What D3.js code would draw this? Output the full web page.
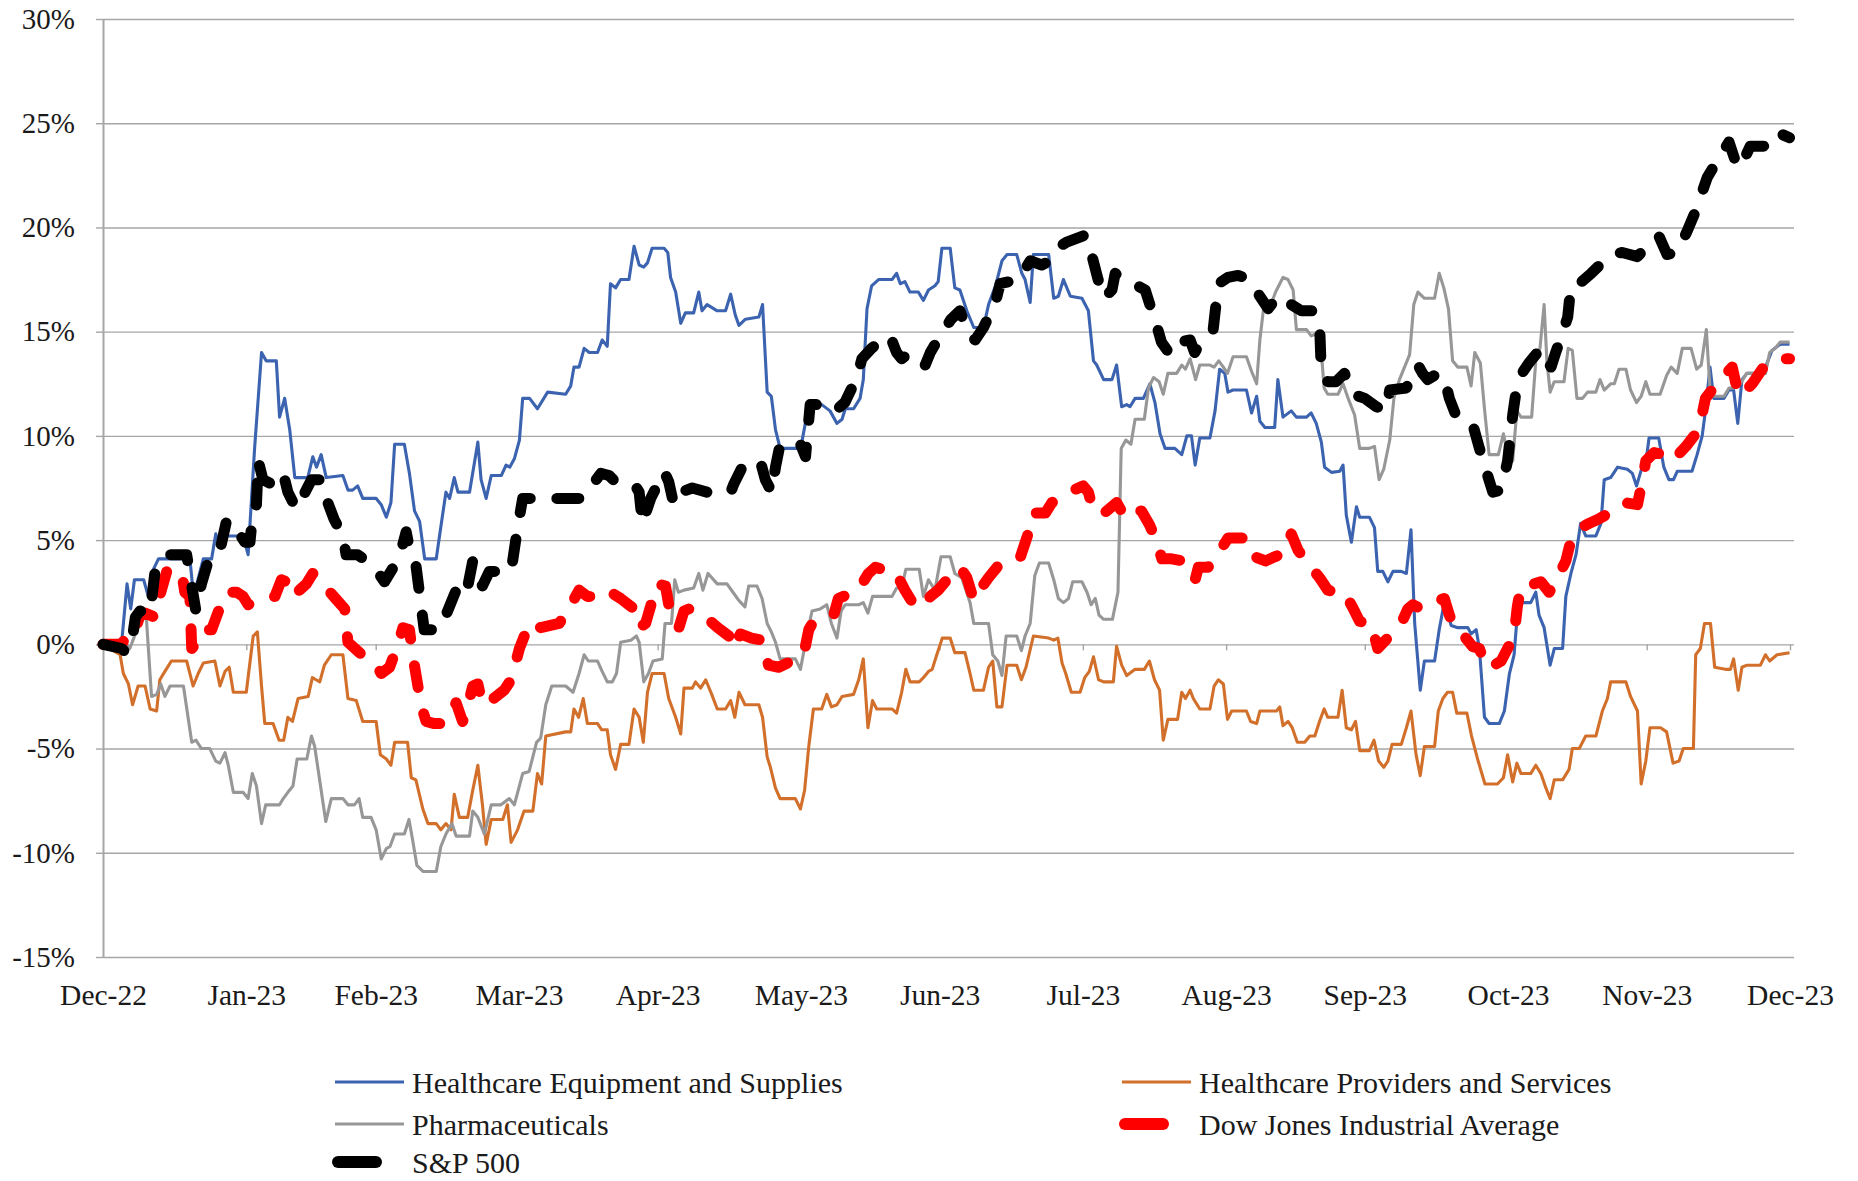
<!DOCTYPE html>
<html>
<head>
<meta charset="utf-8">
<script src="https://cdn.jsdelivr.net/npm/d3@7"></script>
<style>
  body { margin: 0; background: #fff; }
  text { font-family: "Liberation Serif", "DejaVu Serif", serif; }
</style>
</head>
<body>
<div id="chart"></div>
<script>
// month-end ticks, labelled by month
const monthLabels = ["Dec-22", "Jan-23", "Feb-23", "Mar-23", "Apr-23", "May-23", "Jun-23",
  "Jul-23", "Aug-23", "Sep-23", "Oct-23", "Nov-23", "Dec-23"];
const monthEnds = ["2022-12-31", "2023-01-31", "2023-02-28", "2023-03-31", "2023-04-30", "2023-05-31",
  "2023-06-30", "2023-07-31", "2023-08-31", "2023-09-30", "2023-10-31", "2023-11-30", "2023-12-31"];
const yTicks = [-15, -10, -5, 0, 5, 10, 15, 20, 25, 30];

const seriesNames = ["Healthcare Equipment and Supplies", "Healthcare Providers and Services",
  "Pharmaceuticals", "Dow Jones Industrial Average", "S&P 500"];

// [days since 2022-12-31, % return]
const equipment = [[0,0],[4,0],[5.2,2.9],[6,1.7],[6.8,3.1],[8.8,3.1],[9.8,2.3],[10.7,3.5],[12,4.1],[18.8,4.1],[19.6,2.3],[21.7,4.1],[23.5,4.1],[24.4,5.3],[24.9,4.9],[26,5.2],[30.3,5.2],[31.4,4.3],[32.8,9.4],[34.3,14],[35.3,13.6],[37.5,13.6],[38.2,10.9],[39.3,11.8],[40.4,10.3],[41.5,8],[44.3,8],[45.4,9],[46.2,8.5],[47.2,9.1],[48.3,8],[51.9,8.1],[53,7.4],[54,7.4],[55.1,7.6],[56.2,7],[59.1,7],[60.2,6.7],[61.3,6.1],[62.3,6.8],[63.1,9.6],[65.2,9.6],[66.3,8.2],[67.4,6.4],[68.5,5.9],[69.6,4.1],[72.1,4.1],[73.2,5.8],[74.2,7.3],[75,7],[76,8],[76.8,7.3],[79.3,7.3],[81.1,9.7],[81.8,7.9],[82.9,7],[84,8.1],[86.2,8.1],[87.2,8.6],[88,8.5],[89,8.9],[90.1,9.8],[90.8,11.8],[92.3,11.8],[94,11.3],[96.2,12.1],[100.1,12],[101.2,12.4],[101.9,13.3],[103,13.3],[104.1,14.2],[105.2,14],[107,14],[108,14.6],[109.1,14.3],[109.8,17.3],[110.9,17.1],[112,17.5],[113.8,17.5],[114.9,19.1],[116,18.2],[117,18.1],[117.8,18.3],[118.8,19],[121.4,19],[122.2,18.8],[122.8,17.6],[123.9,16.9],[125,15.4],[126,15.9],[127.8,15.9],[128.9,16.9],[129.6,16],[130.7,16.3],[132.9,16],[134.7,16],[135.8,16.8],[136.8,15.8],[137.6,15.3],[139,15.6],[141.9,15.7],[142.7,16.3],[143.7,12.1],[144.6,11.9],[145.5,10.3],[146.5,9.4],[150.1,9.4],[151.2,9.7],[152.7,11.5],[155.5,11.5],[157.3,11.2],[158.8,10.6],[159.9,10.8],[160.6,11.3],[162.4,11.3],[163.8,11.8],[164.5,12.7],[165.3,16.1],[166.3,17.2],[167.8,17.5],[170.7,17.5],[171.7,17.8],[172.5,17.3],[173.5,17.4],[174.6,16.9],[176.4,16.9],[177.5,16.5],[178.6,17],[180,17.2],[180.7,17.4],[181.5,19],[183.3,19],[184.3,17.1],[185.4,17],[186.9,16],[188.4,15.2],[190.5,15.2],[191.6,16.3],[193.1,17.2],[194.5,18.4],[195.6,18.7],[197.7,18.7],[198.8,17.8],[199.5,17.5],[200.6,16.4],[201.3,18.7],[204.6,18.7],[205.7,16.6],[206.7,16.7],[207.8,17.5],[209.3,16.7],[211.8,16.6],[213.2,16],[214.3,13.6],[215,13.4],[216.5,12.7],[218.3,12.7],[219.3,13.4],[220.4,11.4],[221.5,11.5],[222.2,11.4],[223.3,11.8],[225.1,11.8],[226.5,12.5],[227.6,11.6],[228.7,10.1],[229.8,9.4],[231.9,9.4],[233.4,9.1],[234.5,10],[235.5,10],[236.3,8.6],[237.3,9.9],[239.5,9.9],[240.6,11.2],[241.6,13.2],[242.7,13],[243.4,12.1],[244.5,12.2],[247.4,12.2],[248.5,11.1],[249.6,11.9],[250.3,10.7],[251.4,10.4],[253.5,10.4],[254.2,12.7],[255.3,10.9],[257.1,11.2],[258.2,10.9],[260.4,10.9],[261.4,11.1],[262.5,10.6],[263.6,9.7],[264.3,8.5],[265.8,8.25],[267.6,8.3],[268.3,8.6],[269,6.2],[270.1,4.9],[271.2,6.6],[271.9,6.1],[274,6.1],[275.1,5.6],[275.8,3.5],[276.9,3.5],[278,3],[279.1,3.5],[280.9,3.5],[282,3.4],[283,5.5],[283.8,1],[285,-2.2],[285.9,-0.8],[288.1,-0.8],[289.1,0.7],[290.2,2],[291.7,0.9],[293.1,0.8],[295.3,0.8],[296,0.5],[297.1,0.7],[297.8,-0.2],[298.9,-3.5],[299.9,-3.8],[302.1,-3.8],[303.2,-3.2],[304.3,-1.4],[305.3,-0.5],[306.1,1.7],[307.1,2],[308.9,2],[310,2.5],[310.7,1.4],[311.8,0.8],[313.1,-1],[314,-0.2],[315.8,-0.2],[316.5,2.3],[317.6,3.4],[318.7,4.3],[319.7,5.8],[320.8,5.2],[323,5.2],[324.1,5.8],[324.8,7.9],[326.2,8],[327.7,8.5],[329.8,8.4],[330.9,8.2],[331.8,7.6],[333,8.5],[334.1,9.2],[334.5,9.9],[336.6,9.9],[337.7,8.5],[338.8,7.9],[339.8,7.9],[340.6,8.3],[343.8,8.3],[344.9,9.1],[346,10],[346.7,11.2],[347.7,13.3],[348.5,11.8],[350.7,11.8],[351.8,12.2],[352.8,12.2],[353.7,10.6],[354.6,12.7],[355.7,13],[358.6,13],[359.7,13.3],[361.1,14.1],[362.9,14.4],[364.9,14.4]];

const providers = [[0,0],[3.7,-0.5],[4.4,-1.4],[5.5,-1.9],[6.4,-2.9],[7.6,-2],[9.1,-2],[10.2,-3.1],[11.6,-3.2],[12.3,-1.7],[13.4,-1.3],[14.8,-0.8],[18.1,-0.8],[19.5,-2],[20.6,-1.4],[21.7,-0.9],[24.2,-0.8],[25.3,-2],[26.4,-1.3],[27.3,-1.1],[28.2,-2.3],[31,-2.3],[32.5,0.4],[33.4,0.6],[34.3,-2],[35,-3.8],[36.8,-3.8],[38.1,-4.6],[39.1,-4.6],[40,-3.5],[41,-3.7],[42.2,-2.6],[44.4,-2.5],[45.3,-1.6],[46.1,-1.7],[46.9,-1.8],[47.9,-1],[49.4,-0.5],[51.9,-0.5],[53,-2.6],[54.8,-2.7],[56.2,-3.7],[59.1,-3.7],[60,-5.3],[61.3,-5.5],[62.3,-5.8],[63.1,-4.7],[65.9,-4.7],[66.7,-6.4],[67.7,-6.5],[69.2,-7.9],[70.3,-8.6],[72.1,-8.6],[73.1,-8.9],[74.2,-8.6],[75.3,-8.9],[76,-7.2],[77.1,-8.3],[78.9,-8.3],[80,-7],[81.1,-5.8],[82.1,-7.7],[82.9,-9.6],[84,-8.4],[86.5,-8.4],[87.5,-7.7],[88.3,-9.5],[89.7,-8.9],[91.1,-8],[93,-8],[94,-6.2],[94.9,-6.7],[95.8,-4.4],[100.1,-4.2],[101.2,-4.2],[101.9,-3.1],[102.9,-3.5],[103.9,-2.6],[104.8,-3.8],[107,-3.8],[107.9,-4.1],[109.1,-4.1],[109.8,-5.3],[110.9,-6],[112,-4.8],[113.8,-4.8],[114.9,-3.1],[116,-3.5],[116.9,-4.7],[117.8,-2.3],[118.8,-1.4],[121.4,-1.4],[122.4,-2.6],[123.9,-3.5],[125,-4.3],[125.7,-2.1],[127.5,-2.1],[128.2,-1.8],[129.3,-2.1],[130.4,-1.7],[131.7,-2.4],[132.9,-3.1],[134.7,-3.1],[135.8,-2.7],[136.7,-3.5],[137.6,-2.3],[138.9,-2.9],[141.9,-2.9],[142.7,-3.5],[143.7,-5.4],[144.4,-5.9],[145.5,-6.9],[146.5,-7.4],[149.8,-7.4],[150.9,-7.9],[151.8,-7],[152.7,-4.9],[153.7,-3.1],[155.5,-3.1],[156.6,-2.4],[157.6,-3],[158.8,-2.9],[159.9,-2.5],[162.4,-2.4],[163.5,-1.7],[164.5,-0.7],[165.5,-4],[166.5,-2.7],[167.4,-3.1],[170.7,-3.1],[171.7,-3.3],[172.8,-2.3],[173.7,-1.2],[174.6,-1.8],[176.6,-1.8],[177.5,-1.6],[178.6,-1.3],[179.4,-1.2],[180.4,-0.5],[181.6,0.3],[183.3,0.3],[184.3,-0.4],[186.5,-0.4],[187.6,-1.4],[188.4,-2.2],[190.5,-2.2],[191.6,-1.1],[192.5,-0.8],[193.4,-3],[194.5,-3],[195.6,-1],[197.7,-1],[198.7,-1.7],[199.7,-1.1],[201.3,0.4],[204.6,0.3],[205.7,0.2],[206.6,0.3],[207.5,-0.9],[208.3,-1.4],[209.5,-2.3],[211.4,-2.3],[212.4,-1.6],[213.4,-1.3],[214.3,-0.6],[215.4,-1.7],[216.5,-1.8],[218.6,-1.8],[219.3,-0.1],[220.4,-1],[221.5,-1.5],[223.3,-1.2],[225.3,-1.2],[226.4,-0.8],[227.5,-1.7],[228.6,-2.2],[229.4,-4.6],[230.4,-3.6],[232.5,-3.6],[233.4,-2.3],[234.2,-2.6],[235.2,-2.2],[235.9,-2.6],[237.3,-3.1],[239.5,-3.1],[240.4,-2],[241.3,-1.7],[242.4,-1.9],[243.3,-3.6],[244.2,-3.2],[247.4,-3.2],[248.3,-3.7],[249.6,-3.8],[250.3,-3.2],[253.9,-3.2],[254.6,-3],[255.3,-3.9],[256.4,-3.7],[257.3,-4],[258.4,-4.7],[260,-4.7],[261.1,-4.4],[262.2,-4.4],[263.2,-3.7],[264.2,-3.1],[265,-3.5],[267.2,-3.5],[268.1,-2.2],[269,-4],[270.1,-4.1],[271,-3.7],[271.9,-5.1],[274,-5.1],[275,-4.6],[276,-5.6],[277.1,-5.9],[278,-5.6],[278.9,-4.8],[280.9,-4.8],[282,-4],[283,-3.2],[284.1,-5.3],[285,-6.3],[285.9,-4.9],[288.1,-4.9],[288.9,-3.2],[289.9,-2.6],[290.9,-2.3],[292,-2.3],[292.9,-3.3],[295.1,-3.3],[296.1,-4.4],[297.4,-5.5],[299,-6.7],[301.7,-6.7],[303,-6.4],[303.9,-5.3],[305,-6.6],[305.9,-5.7],[306.8,-6.2],[308.9,-6.2],[310,-5.8],[311.1,-6.2],[312.2,-6.9],[313.1,-7.4],[314,-6.5],[315.8,-6.5],[317.2,-6],[317.9,-5],[319.4,-5],[320.8,-4.4],[323,-4.4],[324.4,-3.2],[325.5,-2.6],[326.2,-1.8],[329.5,-1.8],[330.5,-2.5],[332,-3.2],[332.8,-6.7],[333.8,-5.6],[334.7,-4],[337,-4],[338.3,-4.2],[339.7,-5.7],[341,-5.6],[341.9,-5],[344.1,-5],[344.6,-0.5],[345.6,-0.2],[346.5,1],[347.8,1],[348.7,-1.1],[351,-1.2],[352.1,-1.2],[352.8,-0.7],[353.8,-2.2],[354.6,-1.1],[355.7,-1],[358.6,-1],[359.7,-0.5],[360.6,-0.8],[362.2,-0.5],[364.9,-0.4]];

const pharma = [[0,0],[5.1,0],[5.8,-0.2],[7,0.5],[8.5,1.3],[9.4,1.2],[10.5,-2.5],[11.6,-2.4],[12.5,-1.9],[13.4,-2.5],[14.5,-2],[17.4,-2],[19.2,-4.7],[20.1,-4.6],[21.3,-5],[23.1,-5],[24.4,-5.6],[25.3,-5.7],[26.4,-5.2],[27.1,-5.8],[28.2,-7.1],[30.3,-7.1],[31.4,-7.4],[32.3,-6.2],[33.2,-6.8],[34.3,-8.6],[35.2,-7.7],[38.2,-7.7],[39,-7.4],[40,-7.1],[41.1,-6.8],[42,-5.5],[44.1,-5.5],[45.1,-4.4],[45.8,-4.9],[47.2,-7],[48.2,-8.5],[49.4,-7.4],[51.9,-7.4],[53,-7.7],[54.4,-7.7],[55.4,-7.4],[56.2,-8.3],[58,-8.3],[59.1,-8.9],[60.2,-10.3],[61.3,-9.8],[62.1,-9.7],[63.1,-9.1],[65.2,-9.1],[66.2,-8.4],[67,-9.4],[67.9,-10.6],[69.3,-10.9],[72.1,-10.9],[73.1,-9.7],[74.2,-9.1],[75.5,-8.6],[76.4,-9.2],[79.3,-9.2],[80,-8],[81.1,-8.3],[82.5,-9.1],[84,-7.7],[86.1,-7.7],[87.9,-7.4],[89,-7.7],[90.8,-6.2],[92.2,-6.1],[93.8,-4.7],[94.7,-4.5],[95.8,-2.9],[97.1,-2],[100.1,-2],[101.7,-2.3],[103,-1.4],[104.1,-0.5],[105,-0.8],[107,-0.8],[108,-1.3],[109.1,-1.8],[110.2,-1.8],[111.1,-1.4],[112,0.1],[114.2,0.2],[115.4,0.4],[116,0.1],[117,-1.8],[118,-1.4],[119,-0.8],[121,-0.7],[121.6,1],[123,1],[123.7,3.1],[124.5,2.5],[125.7,2.6],[127.8,2.7],[128.9,3.4],[129.8,2.6],[130.9,3.4],[132.9,2.9],[135,2.9],[136.3,2.5],[137.6,2.1],[138.9,1.8],[139.7,2.8],[141.5,2.8],[142.6,2.2],[143.7,1],[144.6,0.6],[145.5,0.1],[146.5,-0.7],[149.8,-0.7],[150.9,-1.2],[152,0.1],[153.4,1.6],[155.2,1.7],[156.6,1.9],[157.6,1],[158.8,0.3],[159.7,1.6],[160.6,1.9],[163.5,1.9],[164.5,2],[165.5,1.5],[166.5,2.3],[170.7,2.3],[171.7,2.7],[172.8,2.7],[173.7,3.6],[176.6,3.6],[177.5,2.3],[178.6,3.1],[180,2.6],[181.3,4.2],[183.3,4.2],[184.3,3.4],[185.8,3.2],[187.6,2],[188.4,1],[191.6,1],[192.5,-0.5],[193.6,-0.8],[194.5,-1.5],[195.4,0.4],[197.7,0.4],[198.7,-0.3],[199.5,0.4],[200.6,1],[201.6,3.3],[202.6,3.9],[204.6,3.9],[205.7,3.1],[206.7,2.2],[207.8,2],[208.9,2.2],[209.8,3],[211.8,3],[212.9,2.5],[213.8,1.9],[214.7,2.2],[215.5,1.4],[216.5,1.2],[218.4,1.2],[219.6,2.5],[220.3,9.4],[221.3,9.8],[222.4,9.6],[223.3,10.8],[225.3,10.8],[226.2,12.3],[227.3,12.8],[228.5,12.6],[229.4,12],[230.4,13],[232.3,13],[233.4,13.4],[234.2,13.2],[235.2,13.7],[236.4,12.7],[237.3,13.4],[239.5,13.4],[240.4,13.3],[241.4,13.6],[242.4,13.3],[243.3,13],[244.5,13.8],[247.4,13.8],[248.5,13.1],[249.6,12.5],[250.3,14.6],[251.2,16.3],[252.7,16.3],[253.7,16.9],[255.3,17.6],[256.4,17.5],[257.5,17],[258.2,15.1],[260.4,15.1],[261.4,14.8],[262.5,14.9],[263.5,14.3],[264.2,12.3],[265,12],[267.2,12],[268.3,12.5],[269.4,11.8],[270.8,11],[271.9,9.4],[274,9.4],[275.1,9.5],[276.1,7.9],[277.1,8.4],[278.4,9.8],[279.3,11.8],[280.5,12.7],[281.6,13.3],[282.7,13.9],[283.6,16.3],[284.5,16.9],[285.9,16.6],[288.1,16.6],[289.1,17.8],[290.1,17.1],[291.1,16.1],[292,13.6],[293.1,13.3],[295.1,13.3],[296,12.4],[296.8,14],[298,13.5],[298.9,11.3],[299.9,9.1],[301.9,9.1],[303,10.1],[303.9,9.1],[305,8.8],[305.9,11.2],[306.8,10.9],[309.1,10.9],[310,13.6],[310.9,14.2],[311.8,16.3],[312.4,13.6],[313.1,12.1],[314,12.6],[316.1,12.6],[317,14.2],[317.9,14.1],[318.9,11.8],[320.1,11.8],[321.2,12.1],[323,12.1],[323.9,12.7],[324.8,12.2],[326.2,12.5],[327,12.5],[328,13.2],[329.5,13.2],[330.5,12.2],[331.8,11.6],[332.8,11.9],[333.8,12.6],[334.7,12],[336.9,12],[338.3,12.9],[339.3,13.3],[340.6,13],[341.7,14.2],[343.6,14.2],[344.8,13.2],[345.8,13.4],[346.9,15.1],[347.7,12.2],[348.5,11.9],[350.7,11.9],[351.8,12.3],[352.8,12.3],[354.3,12.5],[355.6,13],[359.7,13],[360.6,14],[361.8,14.2],[362.9,14.5],[364.9,14.5]];

const djia = [[0,0],[4,0],[5.1,0.4],[6.6,0.4],[8,1.4],[9.1,1.5],[11.2,1.3],[12.5,2.5],[13.8,3.5],[15.5,3.6],[17,3.5],[17.7,2.5],[18.8,2.3],[19.2,-0.2],[20.3,0.1],[21.3,0.7],[23.5,0.7],[25,1.6],[26.7,2.5],[28.9,2.5],[30.3,2.3],[31.4,1.9],[32.5,2],[34.8,2.2],[37.2,2.3],[38.6,3.1],[39.7,3],[40.8,2.3],[42.5,2.6],[44,2.9],[45.4,3.4],[46.1,3.1],[47.6,2.8],[48.3,2.7],[50.3,2.2],[52.3,1.7],[53,0.1],[55.5,-0.4],[57.7,-0.8],[59.1,-1],[60.2,-1.4],[62,-1.1],[63.5,-0.2],[64.9,0.8],[66.3,0.7],[67,-0.5],[68.8,-2.9],[69.9,-3.7],[71.7,-3.8],[73.5,-3.8],[74.9,-3.5],[76.4,-2.8],[77.8,-3.7],[79,-2.9],[80,-2],[81.1,-1.9],[82.1,-2.9],[84.5,-2.6],[86.8,-2.2],[88.3,-1.7],[90.1,-0.2],[91.5,0.6],[92.9,1.1],[94.7,0.8],[98.7,1],[101,1.8],[103,2.6],[104.8,2.3],[106.6,2.3],[109.1,2.6],[112,2.2],[114.9,1.7],[116,0.8],[117.4,1],[118.7,2],[119.9,2.9],[121.7,2.8],[122.8,1.4],[124.6,0.8],[125.7,1.6],[126.8,1.7],[128.2,1.6],[130.4,1.3],[133,0.8],[135.4,0.4],[136.5,-0.2],[137.9,0.5],[140.3,0.3],[142.6,0.2],[144,-1],[146.2,-1.1],[149,-0.8],[151.6,-0.5],[152.7,0.7],[153.7,1.1],[156,1.2],[158.1,1.4],[159.1,2.2],[161.3,2.4],[163.5,2.6],[164.5,3],[165.6,3.4],[167.1,3.7],[169.9,3.5],[171.4,3.5],[173.5,2.6],[175.7,1.8],[177.9,1.9],[179,2.3],[180.7,2.6],[183,3.2],[185.4,3.7],[186.9,3.2],[188.4,2.1],[190,2.7],[191.6,3.2],[193.8,3.8],[195.6,4.1],[198.5,4.2],[200,5.2],[201,6.3],[203.9,6.3],[205.3,6.8],[207.8,7.1],[210,7.4],[212.1,7.6],[213.2,7.3],[213.9,6.7],[216.1,6.2],[217.7,6.5],[219.3,6.8],[221.1,6.1],[222.6,6.4],[224.7,6.4],[226.5,5.7],[228,4.9],[229.1,4.1],[231.2,4.1],[233.7,4],[235,3.5],[236.3,3.1],[237,3.7],[239.1,3.7],[240.6,4.1],[242,4.6],[243.4,5.1],[247.4,5.1],[249.2,4.2],[251.5,4],[253.5,4.2],[255.7,4.4],[257.1,5.3],[258.6,4.5],[261,3.8],[263.2,3.2],[265,2.6],[266.8,2.5],[268.6,2.5],[270.3,1.8],[271.9,1.1],[274.4,1],[275.8,-0.2],[277.5,0.2],[279.2,0.6],[280.9,1],[282.3,1.7],[283.4,1.9],[285.2,1.7],[287.8,2],[290.2,2.2],[291.3,1.4],[292.4,0.8],[294.5,0.4],[296.3,-0.1],[297.8,-0.2],[299.2,-1.1],[301,-1],[302.5,-0.8],[303.9,-0.2],[305.3,0.4],[306,1.8],[306.8,2.8],[308.2,2.8],[311.1,3],[312.9,2.5],[314.7,3.2],[316.5,4],[317.6,5],[319,5.5],[321.5,5.8],[323.5,6],[325.1,6.2],[326.9,6.4],[329.1,6.8],[332,6.7],[333,7.8],[333.8,8.8],[335.6,9.2],[337.7,9.1],[339.5,8.8],[342.5,9.5],[345.3,10.3],[346.7,11.8],[349.5,12.6],[352.5,13.3],[353.6,12.2],[354.3,11.9],[356.8,12.5],[359.3,13.3],[361.1,13.6],[362.9,13.7],[364.9,13.7]];

const sp500 = [[0,0],[4,-0.2],[5.1,-0.4],[6.2,0.05],[7,1.3],[8,1.6],[10.2,1.5],[11.2,3.4],[12.5,4],[13.8,4.3],[18.1,4.3],[19.2,2.8],[20.1,1.6],[21.3,2.9],[22.5,3.8],[23.8,4.6],[25.6,4.8],[26.7,5.9],[28.2,5.9],[29.5,5.3],[30.7,4.9],[31.8,4.9],[32.5,6.5],[33.2,6.7],[33.6,8.8],[34.6,7.9],[36.4,7.7],[37.5,7.7],[39,8.2],[40,7.3],[41.8,6.5],[43.5,7.2],[45.1,7.9],[47.2,7.9],[48.3,7],[50,6],[51.9,5.2],[52.6,4.3],[55.1,4.3],[57,4],[58.7,3.7],[60.9,3],[63.1,3.8],[64.5,4.5],[65.6,5.4],[66.3,4.6],[67.7,3.8],[68.8,1.9],[69.5,0.7],[72.8,0.7],[74.2,1.4],[76.4,2.6],[77.5,2.5],[78.5,2.3],[80,4],[81,3.4],[82.1,2.8],[83.6,3.5],[88.3,3.5],[89.7,5.6],[90.8,7],[93.3,7],[95.5,7.1],[97.6,7],[103.7,7],[105.7,7.6],[107.7,8.2],[109.5,8.1],[111.3,7.7],[115.2,7.6],[116,7.3],[116.7,5.8],[118.5,7],[121.4,8.3],[122.4,7.8],[123.5,6.7],[125,7.3],[127.5,7.5],[130.7,7.3],[135.8,7.3],[136.5,7.7],[138.3,8.5],[140.5,8.7],[142.2,8.8],[143.3,7.9],[144.7,7.3],[145.5,8.5],[146.5,9.6],[150.9,9.6],[152,9],[153,11.5],[157,11.5],[158.4,11.2],[160.5,11.6],[163.1,12.8],[164.2,13.7],[166.3,14.2],[168.5,14.6],[170.3,14.8],[171.7,14],[172.8,13.7],[174.6,14],[176.5,13.7],[177.9,13.4],[179,14],[181.1,14.8],[183.5,15.6],[185.4,16],[187.2,14.9],[188.7,14.6],[190.5,15.2],[193.1,16.4],[194.1,17.3],[198.1,17.5],[199.5,18],[200.6,18.4],[203.1,18.2],[204.9,18.4],[206.4,19],[208.5,19.3],[212.1,19.6],[213.2,19.5],[213.9,18.7],[215.3,17.5],[216.5,16.6],[218.3,17],[219,17.8],[220.4,17.5],[223,17.3],[225.5,17],[226.5,16.3],[227.6,15.6],[229,14.5],[230.9,13.9],[232.7,14.5],[235.2,14.6],[236.2,14],[237.7,14.6],[240.2,15.1],[241.3,17.3],[243.4,17.6],[245.6,17.7],[248.1,17.5],[250,16.8],[252.1,16.1],[254.2,16.7],[255.3,16.4],[257.1,16.3],[259.3,16],[261.8,16],[263.2,15.5],[263.6,13],[265,12.6],[266.8,12.6],[268.6,13],[269.5,12.5],[270.4,12],[273,11.8],[275.5,11.4],[277.6,11.2],[278.4,12.2],[282,12.3],[283.3,13],[284.5,13.4],[285.5,13],[286.6,12.7],[288.8,13],[290.2,12.8],[291.3,11.8],[292.7,11],[294.5,10.8],[296.3,10.6],[297.8,9.4],[299.3,8.3],[300.7,7.3],[302.5,7.4],[303.9,8.8],[305,11],[306.1,12.7],[308.5,13.5],[311.1,14.2],[313.3,13.3],[314.3,14],[315.6,14.8],[316.9,15.7],[317.6,17.2],[319.4,17.3],[322,17.8],[324.8,18.4],[326.2,18.7],[328.7,18.8],[332,18.6],[334.5,19.2],[336.6,19.6],[338.4,18.7],[340.6,18.8],[342.7,19.8],[344.6,20.8],[347.1,22.4],[349.5,23.3],[351.8,24.1],[353.6,22.9],[354.3,22.9],[356.4,23.9],[359.3,23.9],[360.8,24.5],[362.9,24.5],[364.9,24.3]];

const w = 1858;
const h = 1181;
const plotLeft = 103, plotRight = 1790, gridRight = 1794, plotTop = 19, plotBottom = 957;

const parseDay = d3.timeParse("%Y-%m-%d");
const start = parseDay("2022-12-31");
const dayToDate = d => new Date(start.getTime() + d * 864e5);
const tickDates = monthEnds.map(parseDay);

const xScale = d3.scaleTime()
  .domain([start, parseDay("2023-12-31")])
  .range([plotLeft, plotRight]);

const yScale = d3.scaleLinear()
  .domain([-15, 30])
  .range([plotBottom, plotTop]);

const svg = d3.select("#chart")
  .append("svg")
  .attr("width", w)
  .attr("height", h)
  .style("background", "#fff");

const gridColor = "#a6a6a6";

// horizontal gridlines
const grid = svg.append("g")
  .attr("transform", "translate(" + plotLeft + ",0)")
  .call(d3.axisLeft(yScale).tickValues(yTicks).tickSize(-(gridRight - plotLeft)).tickFormat(""));
grid.select(".domain").remove();
grid.selectAll("line").attr("stroke", gridColor).attr("stroke-width", 1.4);

// y axis with labels
const yAxis = svg.append("g")
  .attr("transform", "translate(" + plotLeft + ",0)")
  .call(d3.axisLeft(yScale).tickValues(yTicks).tickSize(7).tickSizeOuter(0).tickPadding(21)
    .tickFormat(d => d + "%"));
yAxis.select(".domain").attr("stroke", gridColor).attr("stroke-width", 2);
yAxis.selectAll("line").attr("stroke", gridColor).attr("stroke-width", 1.4);
yAxis.selectAll("text").attr("font-size", 29).attr("fill", "#1a1a1a");

// month ticks sit on the 0% line
const xTicks = svg.append("g")
  .attr("transform", "translate(0," + yScale(0) + ")")
  .call(d3.axisBottom(xScale).tickValues(tickDates).tickSize(6).tickFormat(""));
xTicks.select(".domain").remove();
xTicks.selectAll("line").attr("stroke", gridColor).attr("stroke-width", 1.4);

// month labels under the plot
const xLabels = svg.append("g")
  .attr("transform", "translate(0," + plotBottom + ")")
  .call(d3.axisBottom(xScale).tickValues(tickDates).tickSize(0).tickPadding(27)
    .tickFormat((d, i) => monthLabels[i]));
xLabels.select(".domain").remove();
xLabels.selectAll("text").attr("font-size", 29.5).attr("fill", "#1a1a1a");

const line = d3.line()
  .x(d => xScale(dayToDate(d[0])))
  .y(d => yScale(d[1]));

const styles = [
  { color: "#3b63b0", width: 3.1, dash: null },
  { color: "#d2702b", width: 3.1, dash: null },
  { color: "#979797", width: 3.1, dash: null },
  { color: "#ff0000", width: 11, dash: "22 27" },
  { color: "#000000", width: 11, dash: "22 27" }
];
const allSeries = [equipment, providers, pharma, djia, sp500];

allSeries.forEach((data, i) => {
  const s = styles[i];
  svg.append("path")
    .datum(data)
    .attr("d", line)
    .attr("fill", "none")
    .attr("stroke", s.color)
    .attr("stroke-width", s.width)
    .attr("stroke-linejoin", "round")
    .attr("stroke-linecap", s.dash ? "round" : "butt")
    .attr("stroke-dasharray", s.dash);
});

// legend: two columns, three rows
const legendPos = [[335, 1082], [1122, 1082], [335, 1124], [1122, 1124], [335, 1162]];
const legend = svg.append("g");
seriesNames.forEach((name, i) => {
  const s = styles[i];
  const [lx, ly] = legendPos[i];
  const g = legend.append("g").attr("transform", "translate(" + lx + "," + ly + ")");
  if (s.dash) {
    g.append("line")
      .attr("x1", 3).attr("x2", 41).attr("y1", 0).attr("y2", 0)
      .attr("stroke", s.color).attr("stroke-width", 12).attr("stroke-linecap", "round");
  } else {
    g.append("line")
      .attr("x1", 0).attr("x2", 69).attr("y1", 0).attr("y2", 0)
      .attr("stroke", s.color).attr("stroke-width", 3);
  }
  g.append("text")
    .attr("x", 77)
    .attr("y", 0)
    .attr("dy", "0.35em")
    .attr("font-size", 30)
    .attr("fill", "#1a1a1a")
    .text(name);
});
</script>
</body>
</html>
